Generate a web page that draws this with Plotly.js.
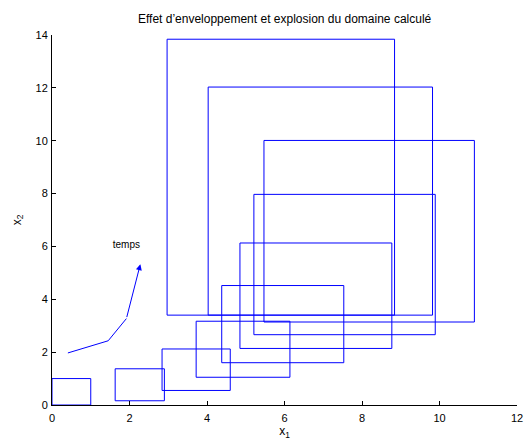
<!DOCTYPE html>
<html>
<head>
<meta charset="utf-8">
<script src="https://cdn.plot.ly/plotly-3.0.1.min.js"></script>
<style>html,body{margin:0;padding:0;background:#fff;}#chart{width:527px;height:442px;}</style>
</head>
<body>
<div id="chart"></div>
<script>
// Rectangles (computed domains over time)
const rectX0 = [0, 1.63, 2.84, 3.72, 4.38, 4.85, 5.21, 5.47, 4.03, 2.97];
const rectX1 = [1.0, 2.90, 4.60, 6.14, 7.53, 8.77, 9.89, 10.90, 9.82, 8.84];
const rectY0 = [0, 0.16, 0.55, 1.05, 1.60, 2.14, 2.66, 3.14, 3.40, 3.40];
const rectY1 = [1.0, 1.37, 2.12, 3.17, 4.52, 6.13, 7.97, 10.01, 12.03, 13.84];
// "temps" arrow path
const arrowX = [0.41, 1.45, 1.92, 2.28];
const arrowY = [1.97, 2.43, 3.27, 5.33];
const labelText = ["temps"];
const labelX = [1.92];
const labelY = [6.02];

const traces = [];
for (let i = 0; i < rectX0.length; i++) {
  traces.push({
    type: 'scatter', mode: 'lines',
    x: [rectX0[i], rectX1[i], rectX1[i], rectX0[i], rectX0[i]],
    y: [rectY0[i], rectY0[i], rectY1[i], rectY1[i], rectY0[i]],
    line: {color: '#0000ff', width: 1},
    hoverinfo: 'skip', showlegend: false
  });
}
traces.push({
  type: 'scatter', mode: 'lines',
  x: arrowX.slice(0, arrowX.length - 1),
  y: arrowY.slice(0, arrowY.length - 1),
  line: {color: '#0000ff', width: 1},
  showlegend: false, hoverinfo: 'skip'
});
traces.push({
  type: 'scatter', mode: 'text',
  x: labelX, y: labelY, text: labelText,
  textfont: {family: 'Liberation Sans, Arial, sans-serif', size: 10, color: '#000'},
  showlegend: false, hoverinfo: 'skip'
});

const n = arrowX.length;
const layout = {
  width: 527, height: 442,
  margin: {l: 52, r: 10, t: 35, b: 37},
  paper_bgcolor: '#fff', plot_bgcolor: '#fff',
  font: {family: 'Liberation Sans, Arial, sans-serif', size: 11, color: '#000'},
  title: {text: 'Effet d\u2019enveloppement et explosion du domaine calculé',
          font: {size: 12, color: '#000'}, x: 0.54, xanchor: 'center', y: 0.957, yanchor: 'middle'},
  xaxis: {
    range: [0, 12], tickvals: [0, 2, 4, 6, 8, 10, 12], ticktext: ['0','2','4','6','8','10','12'],
    ticks: 'inside', ticklen: 4, tickcolor: '#000', showgrid: false, zeroline: false,
    showline: true, linecolor: '#000', linewidth: 1, ticklabelstandoff: 3,
    title: {text: 'x<sub>1</sub>', font: {size: 12}, standoff: 3}
  },
  yaxis: {
    range: [0, 14], tickvals: [0, 2, 4, 6, 8, 10, 12, 14], ticktext: ['0','2','4','6','8','10','12','14'],
    ticks: 'inside', ticklen: 4, tickcolor: '#000', showgrid: false, zeroline: false,
    showline: true, linecolor: '#000', linewidth: 1, ticklabelstandoff: 1,
    title: {text: 'x<sub>2</sub>', font: {size: 12}, standoff: 11}
  },
  annotations: [{
    x: arrowX[n - 1], y: arrowY[n - 1], ax: arrowX[n - 2], ay: arrowY[n - 2],
    xref: 'x', yref: 'y', axref: 'x', ayref: 'y',
    showarrow: true, arrowhead: 2, arrowsize: 1.2, arrowwidth: 1, arrowcolor: '#0000ff', text: ''
  }]
};
Plotly.newPlot('chart', traces, layout, {displayModeBar: false, staticPlot: true});
</script>
</body>
</html>
